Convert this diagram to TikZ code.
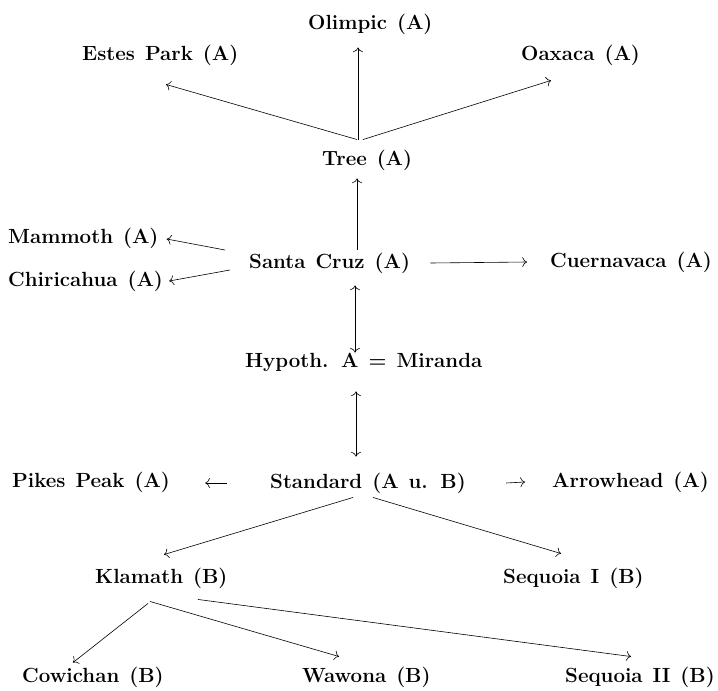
\documentclass[tikz,border=0pt]{standalone}
\usepackage{fontspec}
\setmainfont{Latin Modern Roman}[WordSpace=1.3]
\usetikzlibrary{calc,arrows.meta}
\begin{document}
\begin{tikzpicture}[x=1pt,y=-1pt,
  lbl/.style={inner sep=0pt, anchor=west, font=\bfseries\fontsize{20.5}{23}\selectfont},
  conn/.style={line width=0.6pt, -{Computer Modern Rightarrow[scale=1.6]}},
  conntwo/.style={line width=0.6pt, {Computer Modern Rightarrow[scale=1.6]}-{Computer Modern Rightarrow[scale=1.6]}}]
\useasboundingbox (0,0) rectangle (718,691);
\node[lbl] (olimpic) at (308,24) {Olimpic (A)};
\node[lbl] (estes) at (82,55) {Estes Park (A)};
\node[lbl] (oaxaca) at (521,55) {Oaxaca (A)};
\node[lbl] (tree) at (322,160) {Tree (A)};
\node[lbl] (mammoth) at (8,238) {Mammoth (A)};
\node[lbl] (santa) at (249,263) {Santa Cruz (A)};
\node[lbl] (cuerna) at (550,262) {Cuernavaca (A)};
\node[lbl] (chiri) at (8,281) {Chiricahua (A)};
\node[lbl] (hypoth) at (245,362) {Hypoth. A = Miranda};
\node[lbl] (pikes) at (12,482) {Pikes Peak (A)};
\node[lbl] (standard) at (270,483) {Standard (A u. B)};
\node[lbl] (arrowhead) at (552,482) {Arrowhead (A)};
\node[lbl] (klamath) at (95,578) {Klamath (B)};
\node[lbl] (seqI) at (503,578) {Sequoia I (B)};
\node[lbl] (cowichan) at (22,677) {Cowichan (B)};
\node[lbl] (wawona) at (302,677) {Wawona (B)};
\node[lbl] (seqII) at (565,677) {Sequoia II (B)};
% Tree
\draw[conn] ($(tree.north west)+(36,-10)$) -- ($(olimpic.south west)+(50,13)$);
\draw[conn] ($(tree.north west)+(35,-10)$) -- ($(estes.south west)+(84,19)$);
\draw[conn] ($(tree.north west)+(41,-10)$) -- ($(oaxaca.south west)+(30,15)$);
% Santa Cruz
\draw[conn] ($(santa.north west)+(108,-3)$) -- ($(tree.south west)+(35,8)$);
\draw[conn] ($(santa.west)+(-24,-13)$) -- ($(mammoth.east)+(8,1)$);
\draw[conn] ($(santa.west)+(-19,7)$) -- ($(chiri.east)+(6,0)$);
\draw[conn] ($(santa.east)+(20,0)$) -- ($(cuerna.west)+(-23,0)$);
\draw[conntwo] ($(santa.south west)+(106,12)$) -- ($(hypoth.north west)+(110,0)$);
% Hypoth / Standard
\draw[conntwo] ($(hypoth.south west)+(111,20)$) -- ($(standard.north west)+(86,-16)$);
\draw[conn] ($(standard.west)+(-43,0)$) -- ($(pikes.east)+(35,1)$);
\draw[conn] ($(standard.east)+(40,0)$) -- ($(arrowhead.west)+(-27,0)$);
\draw[conn] ($(standard.south west)+(83,4)$) -- ($(klamath.north west)+(69,-13)$);
\draw[conn] ($(standard.south west)+(103,4)$) -- ($(seqI.north west)+(58,-14)$);
% Klamath
\draw[conn] ($(klamath.south west)+(53,15)$) -- ($(cowichan.north west)+(51,-4)$);
\draw[conn] ($(klamath.south west)+(55,13)$) -- ($(wawona.north west)+(37,-10)$);
\draw[conn] ($(klamath.south west)+(103,11)$) -- ($(seqII.north west)+(66,-10)$);
\end{tikzpicture}
\end{document}
